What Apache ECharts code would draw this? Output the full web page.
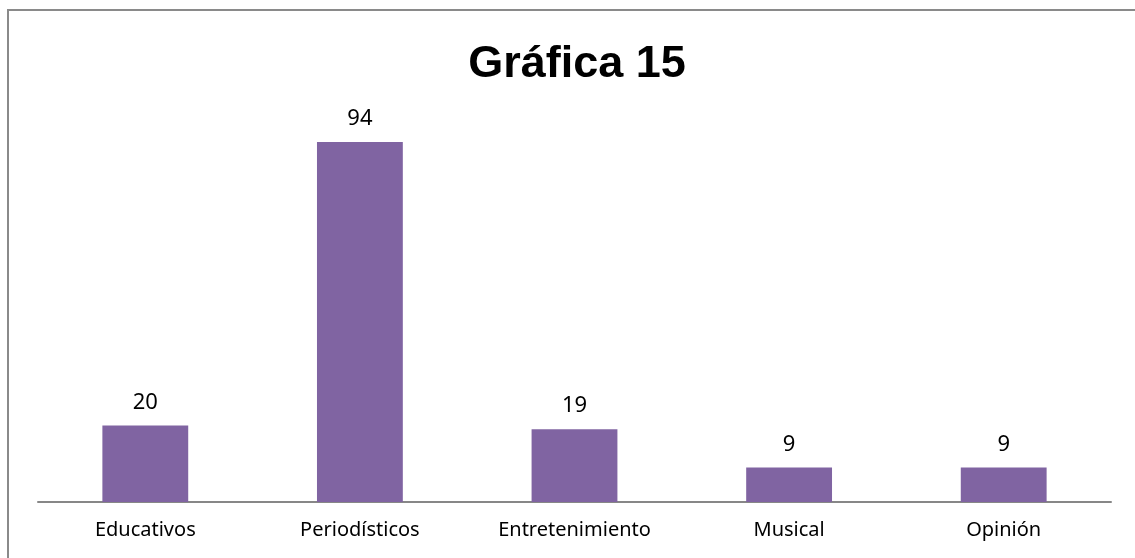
<!DOCTYPE html>
<html><head><meta charset="utf-8">
<script src="https://cdn.jsdelivr.net/npm/echarts@6/dist/echarts.min.js"></script>
<style>html,body{margin:0;padding:0;background:#fff}#c{width:1135px;height:558px}</style>
</head><body><div id="c"></div>
<script>
const titleText = 'Gráfica 15';
const categories = ['Educativos', 'Periodísticos', 'Entretenimiento', 'Musical', 'Opinión'];
const values = [20, 94, 19, 9, 9];

const chart = echarts.init(document.getElementById('c'), null, {renderer: 'canvas'});
chart.setOption({
  animation: false,
  backgroundColor: '#fff',
  title: {
    text: titleText, left: 572, top: 37, textAlign: 'center',
    textStyle: {fontFamily: 'Liberation Sans', fontWeight: 'bold', fontSize: 45, color: '#000'}
  },
  graphic: [{
    type: 'rect', shape: {x: 8, y: 10, width: 1140, height: 600},
    style: {fill: 'none', stroke: '#8a8a8a', lineWidth: 2}, silent: true
  }],
  grid: {left: 38, right: 24, top: 119, bottom: 56},
  xAxis: {
    type: 'category', data: categories,
    axisLine: {lineStyle: {color: '#878787', width: 2}},
    axisTick: {show: false},
    axisLabel: {fontFamily: 'Noto Sans', fontSize: 20, color: '#000', margin: 18}
  },
  yAxis: {type: 'value', min: 0, max: 100, show: false, splitLine: {show: false}},
  series: [{
    type: 'bar', data: values, barWidth: '40%',
    itemStyle: {color: '#8064A2'},
    label: {show: true, position: 'top', distance: 12, fontFamily: 'Noto Sans', fontSize: 22, color: '#000'}
  }]
});
</script></body></html>
